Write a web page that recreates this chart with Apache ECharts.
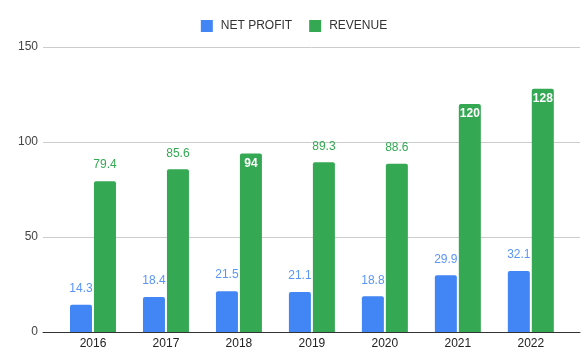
<!DOCTYPE html>
<html>
<head>
<meta charset="utf-8">
<script src="https://cdn.jsdelivr.net/npm/echarts@6/dist/echarts.min.js"></script>
<style>
html,body{margin:0;padding:0;background:#fff;}
#chart{width:588px;height:358px;}
</style>
</head>
<body>
<div id="chart"></div>
<script>
const years = ['2016', '2017', '2018', '2019', '2020', '2021', '2022'];
const netProfit = [14.3, 18.4, 21.5, 21.1, 18.8, 29.9, 32.1];
const revenue = [79.4, 85.6, 94, 89.3, 88.6, 120, 128];
const yTicks = [0, 50, 100, 150];

const FONT = 'Arial, "Liberation Sans", sans-serif';
const BLUE = '#4285F4';
const GREEN = '#34A853';
const insideRevenue = [2, 5, 6];

function outsideLabel(color) {
  return {
    show: true, position: 'top', distance: 10,
    color: color, fontSize: 12, fontFamily: FONT
  };
}
const insideLabel = {
  show: true, position: 'insideTop', distance: 4,
  color: '#fff', fontSize: 12, fontWeight: 'bold', fontFamily: FONT
};

const chart = echarts.init(document.getElementById('chart'), null, {renderer: 'canvas'});
chart.setOption({
  animation: false,
  backgroundColor: '#fff',
  legend: {
    top: 15, left: 'center',
    itemWidth: 12, itemHeight: 12, itemGap: 17,
    icon: 'rect',
    textStyle: {color: '#333', fontSize: 12, fontFamily: FONT, padding: [0, 0, 0, 3]},
    data: ['NET PROFIT', 'REVENUE']
  },
  grid: [
    {left: 43, right: 8, top: 47, bottom: 26},
    {left: 56.5, right: 20.7, top: 47, bottom: 26}
  ],
  xAxis: [
    {gridIndex: 0, type: 'value', min: 0, max: 1,
     axisLine: {show: true, lineStyle: {color: '#333', width: 1}},
     axisTick: {show: false}, axisLabel: {show: false}, splitLine: {show: false}, z: 5},
    {gridIndex: 1, type: 'category', data: years,
     axisLine: {show: false}, axisTick: {show: false},
     axisLabel: {color: '#222', fontSize: 12, fontFamily: FONT, margin: 6}}
  ],
  yAxis: [
    {gridIndex: 0, type: 'value', min: yTicks[0], max: yTicks[yTicks.length - 1], interval: 50,
     axisLine: {show: false}, axisTick: {show: false},
     axisLabel: {color: '#444', fontSize: 12, fontFamily: FONT, margin: 5},
     splitLine: {lineStyle: {color: '#ccc', width: 1}}},
    {gridIndex: 1, type: 'value', min: yTicks[0], max: yTicks[yTicks.length - 1], interval: 50,
     show: false, splitLine: {show: false}}
  ],
  series: [
    {
      name: 'NET PROFIT', type: 'bar', xAxisIndex: 1, yAxisIndex: 1,
      barWidth: 22, barGap: '9%',
      itemStyle: {color: BLUE, borderRadius: [2, 2, 0, 0]},
      label: outsideLabel('#5b95f5'),
      data: netProfit
    },
    {
      name: 'REVENUE', type: 'bar', xAxisIndex: 1, yAxisIndex: 1,
      barWidth: 22, barGap: '9%',
      itemStyle: {color: GREEN, borderRadius: [2, 2, 0, 0]},
      label: outsideLabel(GREEN),
      data: revenue.map((v, i) => insideRevenue.includes(i) ? {value: v, label: insideLabel} : v)
    }
  ]
});
</script>
</body>
</html>
